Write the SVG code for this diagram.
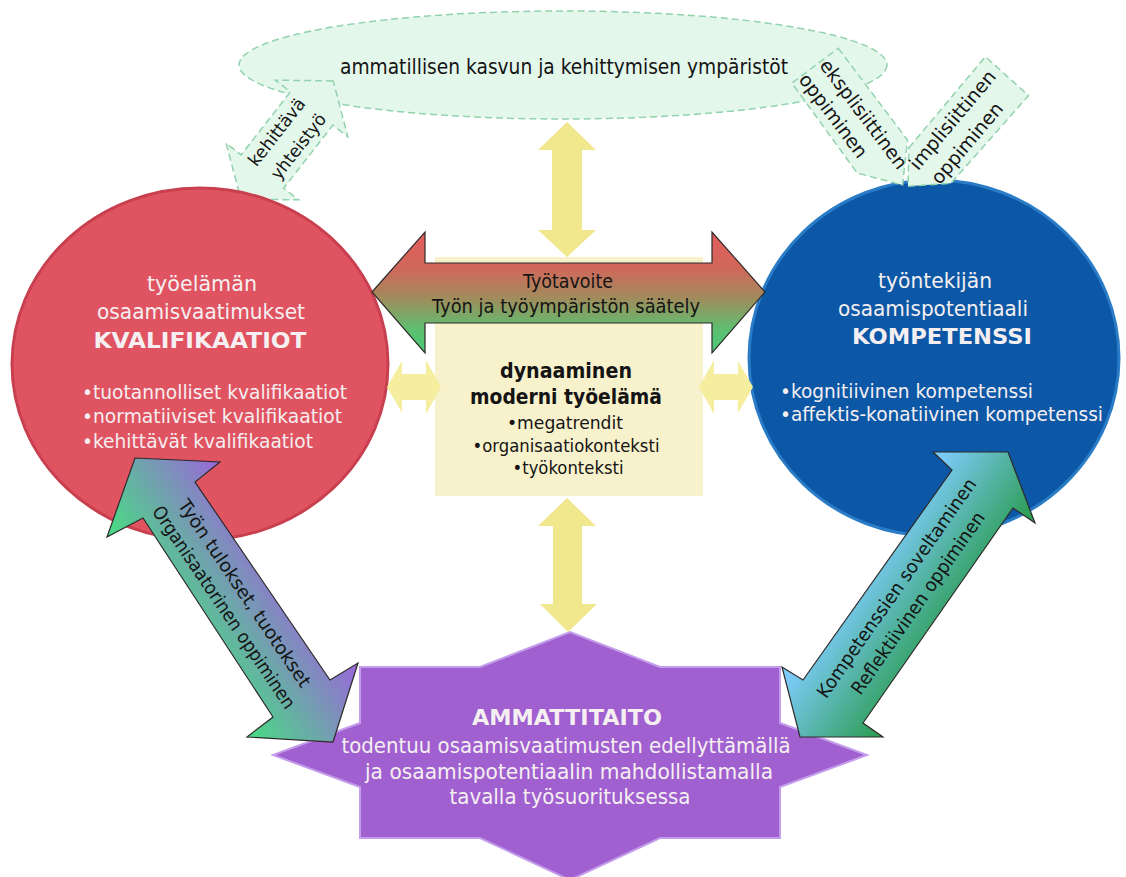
<svg xmlns="http://www.w3.org/2000/svg" width="1126" height="877" viewBox="0 0 1126 877">
<defs>
<style>
text{font-family:"DejaVu Sans",Verdana,sans-serif}
.k{fill:#141414}
.w{fill:#F5EFF1}
.b{font-weight:bold}
.m{text-anchor:middle}
.dash{fill:#E4F7EB;stroke:#92D2AC;stroke-width:1.5;stroke-dasharray:7 4}
.yel{fill:#F1E78C}
.yel2{fill:#F4EE9E}
.out{stroke:#2E2A2A;stroke-width:1.2;stroke-linejoin:miter}
</style>
<linearGradient id="gRG" x1="0" y1="0" x2="0" y2="1">
<stop offset="0" stop-color="#E45C5E"/>
<stop offset="0.3" stop-color="#D0685A"/>
<stop offset="0.55" stop-color="#A08C5C"/>
<stop offset="0.8" stop-color="#5EBE70"/>
<stop offset="1" stop-color="#48CC78"/>
</linearGradient>
<linearGradient id="gL" gradientUnits="userSpaceOnUse" x1="185" y1="634" x2="290" y2="563">
<stop offset="0" stop-color="#4CD687"/>
<stop offset="1" stop-color="#9A66DA"/>
</linearGradient>
<linearGradient id="gR" gradientUnits="userSpaceOnUse" x1="866" y1="565" x2="955" y2="627">
<stop offset="0" stop-color="#7CCBF8"/>
<stop offset="1" stop-color="#2C9C52"/>
</linearGradient>
</defs>
<rect width="1126" height="877" fill="#FFFFFF"/>

<g id="nodes">
<g id="env-ellipse">
<ellipse class="dash" cx="563" cy="65" rx="324" ry="54"/>
<text class="k m" x="564" y="74" font-size="21" textLength="448" lengthAdjust="spacingAndGlyphs">ammatillisen kasvun ja kehittymisen ympäristöt</text>
</g>

<g id="callout-kehittava" transform="translate(287,140) rotate(-52)">
<polygon class="dash" points="75,0 40,-46 40,-27 -40,-27 -40,-46 -75,0 -40,46 -40,27 40,27 40,46"/>
<text class="k m" x="0" y="-7" font-size="17.5" textLength="81" lengthAdjust="spacingAndGlyphs">kehittävä</text>
<text class="k m" x="2" y="19" font-size="17.5" textLength="78" lengthAdjust="spacingAndGlyphs">yhteistyö</text>
</g>

<g id="kvalifikaatiot">
<ellipse cx="200" cy="364" rx="188" ry="176" fill="#E05462" stroke="#C8404F" stroke-width="3"/>
<text class="w m" x="202" y="291" font-size="22" textLength="110" lengthAdjust="spacingAndGlyphs">työelämän</text>
<text class="w m" x="201" y="319" font-size="22" textLength="208" lengthAdjust="spacingAndGlyphs">osaamisvaatimukset</text>
<text class="w m b" x="200" y="348" font-size="22" textLength="213" lengthAdjust="spacingAndGlyphs">KVALIFIKAATIOT</text>
<text class="w" x="82" y="399" font-size="19.5" textLength="265" lengthAdjust="spacingAndGlyphs">•tuotannolliset kvalifikaatiot</text>
<text class="w" x="82" y="423" font-size="19.5" textLength="260" lengthAdjust="spacingAndGlyphs">•normatiiviset kvalifikaatiot</text>
<text class="w" x="82" y="448" font-size="19.5" textLength="231" lengthAdjust="spacingAndGlyphs">•kehittävät kvalifikaatiot</text>
</g>

<g id="kompetenssi">
<ellipse cx="934" cy="358" rx="185" ry="178" fill="#0C58A6" stroke="#2A7CC6" stroke-width="3"/>
<text class="w m" x="935" y="288" font-size="22" textLength="114" lengthAdjust="spacingAndGlyphs">työntekijän</text>
<text class="w m" x="933" y="316" font-size="22" textLength="190" lengthAdjust="spacingAndGlyphs">osaamispotentiaali</text>
<text class="w m b" x="942" y="344" font-size="22" textLength="180" lengthAdjust="spacingAndGlyphs">KOMPETENSSI</text>
<text class="w" x="780" y="398" font-size="19.5" textLength="253" lengthAdjust="spacingAndGlyphs">•kognitiivinen kompetenssi</text>
<text class="w" x="780" y="421" font-size="19.5" textLength="323" lengthAdjust="spacingAndGlyphs">•affektis-konatiivinen kompetenssi</text>
</g>

<g id="callout-eksplisiittinen" transform="translate(848,116) rotate(53)">
<polygon class="dash" points="-60,-33 55,-33 88,-2 51,27 -60,25"/>
<text class="k" x="-58" y="-7" font-size="19" textLength="132" lengthAdjust="spacingAndGlyphs">eksplisiittinen</text>
<text class="k" x="-59" y="18" font-size="19" textLength="100" lengthAdjust="spacingAndGlyphs">oppiminen</text>
</g>

<g id="callout-implisiittinen" transform="translate(960,132) rotate(-50)">
<polygon class="dash" points="-45,-29 74,-29 72,29 -45,26 -75,-5"/>
<text class="k" x="-57" y="-7" font-size="19" textLength="123" lengthAdjust="spacingAndGlyphs">implisiittinen</text>
<text class="k" x="-54" y="19" font-size="19" textLength="100" lengthAdjust="spacingAndGlyphs">oppiminen</text>
</g>

<g id="tyoelama">
<rect x="435" y="257" width="268" height="239" fill="#F7F1CC"/>
<text class="k m b" x="566" y="378" font-size="21" textLength="132" lengthAdjust="spacingAndGlyphs">dynaaminen</text>
<text class="k m b" x="566" y="404" font-size="21" textLength="192" lengthAdjust="spacingAndGlyphs">moderni työelämä</text>
<text class="k m" x="565" y="429" font-size="18" textLength="116" lengthAdjust="spacingAndGlyphs">•megatrendit</text>
<text class="k m" x="566" y="452" font-size="18" textLength="187" lengthAdjust="spacingAndGlyphs">•organisaatiokonteksti</text>
<text class="k m" x="568" y="474" font-size="18" textLength="111" lengthAdjust="spacingAndGlyphs">•työkonteksti</text>
</g>

<g id="ammattitaito">
<polygon points="360,667 480,667 570,632 660,667 780,667 780,723 867,755 780,787 780,838 660,838 570,880 480,838 360,838 360,787 273,755 360,723" fill="#A060D0" stroke="#C49CEC" stroke-width="2" stroke-linejoin="miter"/>
<text class="w m b" x="567" y="725" font-size="22" textLength="190" lengthAdjust="spacingAndGlyphs">AMMATTITAITO</text>
<text class="w m" x="566" y="753" font-size="20.5" textLength="449" lengthAdjust="spacingAndGlyphs">todentuu osaamisvaatimusten edellyttämällä</text>
<text class="w m" x="569" y="779" font-size="20.5" textLength="408" lengthAdjust="spacingAndGlyphs">ja osaamispotentiaalin mahdollistamalla</text>
<text class="w m" x="570" y="804" font-size="20.5" textLength="241" lengthAdjust="spacingAndGlyphs">tavalla työsuorituksessa</text>
</g>
</g>

<g id="connectors">
<polygon class="yel" points="567,122 596,150 582,150 582,230 596,230 567,257 538,230 552,230 552,150 538,150"/>
<polygon class="yel" points="567,498 596,526 582,526 582,604 597,604 568,632 540,604 553,604 553,526 538,526"/>
<polygon class="yel2" points="387,387 402,361 402,374 426,374 426,360 441,387 426,414 426,400 402,400 402,413"/>
<polygon class="yel2" points="753,387 738,361 738,374 714,374 714,360 699,387 714,414 714,400 738,400 738,413"/>

<g id="arrow-tyotavoite">
<polygon class="out" fill="url(#gRG)" points="372,292 425,232 425,263 712,263 712,232 765,292 712,353 712,323 425,323 425,353"/>
<text class="k m" x="568" y="288" font-size="19" textLength="90" lengthAdjust="spacingAndGlyphs">Työtavoite</text>
<text class="k m" x="566" y="313" font-size="19" textLength="268" lengthAdjust="spacingAndGlyphs">Työn ja työympäristön säätely</text>
</g>

<g id="arrow-tulokset">
<polygon class="out" fill="url(#gL)" points="135,458 220,462 195,482 330,680 358,663 333,742 247,737 273,717 143,518 107,537"/>
<g transform="translate(236,599) rotate(56)">
<text class="k m" x="0" y="-4" font-size="18.5" textLength="222" lengthAdjust="spacingAndGlyphs">Työn tulokset, tuotokset</text>
<text class="k m" x="0" y="21" font-size="18.5" textLength="240" lengthAdjust="spacingAndGlyphs">Organisaatorinen oppiminen</text>
</g>
</g>

<g id="arrow-kompetenssien">
<polygon class="out" fill="url(#gR)" points="1008,452 1035,523 1013,508 863,723 883,737 800,737 782,667 803,680 952,470 933,452"/>
<g transform="translate(905,594) rotate(-55)">
<text class="k m" x="0" y="-4" font-size="18.5" textLength="263" lengthAdjust="spacingAndGlyphs">Kompetenssien soveltaminen</text>
<text class="k m" x="0" y="22" font-size="18.5" textLength="218" lengthAdjust="spacingAndGlyphs">Reflektiivinen oppiminen</text>
</g>
</g>
</g>
</svg>
